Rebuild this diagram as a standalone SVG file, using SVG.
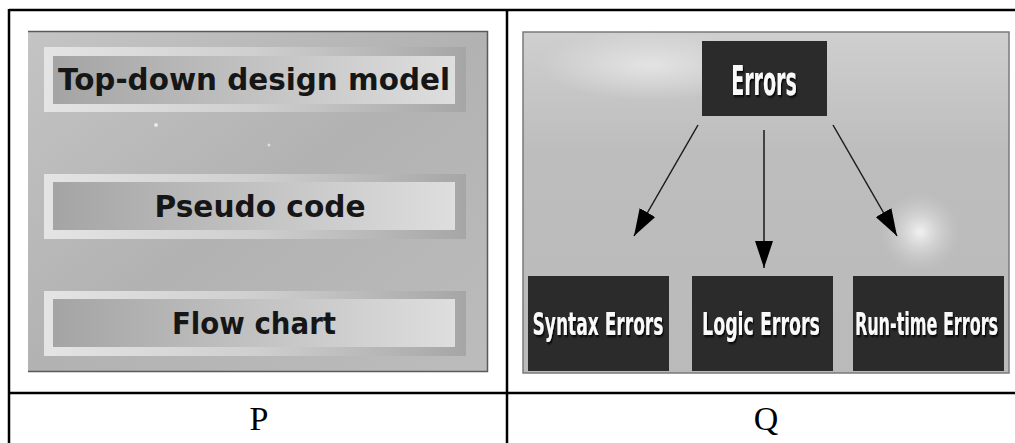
<svg xmlns="http://www.w3.org/2000/svg" width="1015" height="443" viewBox="0 0 1015 443">
<defs>
<style>
.grid{stroke:#000;stroke-width:2.5;fill:none}
.lbl{font-family:"Liberation Serif",serif;font-size:34px;fill:#000;text-anchor:middle}
.ptxt{font-family:"DejaVu Sans","Liberation Sans",sans-serif;font-weight:bold;font-size:30px;fill:#161616;text-anchor:middle}
.qtxt{font-family:"DejaVu Sans Condensed","DejaVu Sans",sans-serif;font-weight:bold;fill:#fafafa;text-anchor:middle;filter:url(#sh)}
.dark{fill:#2b2b2b}
.conn{stroke:#1a1a1a;stroke-width:1.5;fill:none;marker-end:url(#ah)}
</style>
<filter id="sh" x="-10%" y="-20%" width="130%" height="150%">
<feDropShadow dx="2" dy="2" stdDeviation="1" flood-color="#000" flood-opacity="0.85"/>
</filter>
<linearGradient id="pbg" x1="0" y1="0" x2="1" y2="1">
<stop offset="0" stop-color="#c4c4c4"/>
<stop offset="0.5" stop-color="#b2b2b2"/>
<stop offset="1" stop-color="#bcbcbc"/>
</linearGradient>
<linearGradient id="frame" x1="0" y1="0" x2="1" y2="0">
<stop offset="0" stop-color="#e4e4e4"/>
<stop offset="0.5" stop-color="#cfcfcf"/>
<stop offset="1" stop-color="#a6a6a6"/>
</linearGradient>
<linearGradient id="inner" x1="0" y1="0" x2="1" y2="0">
<stop offset="0" stop-color="#a4a4a4"/>
<stop offset="0.5" stop-color="#c2c2c2"/>
<stop offset="1" stop-color="#dedede"/>
</linearGradient>
<linearGradient id="qbg" x1="0" y1="0" x2="0" y2="1">
<stop offset="0" stop-color="#cfcfcf"/>
<stop offset="0.35" stop-color="#bdbdbd"/>
<stop offset="1" stop-color="#bababa"/>
</linearGradient>
<radialGradient id="glow" cx="0.5" cy="0.5" r="0.5">
<stop offset="0" stop-color="#f2f2f2" stop-opacity="1"/>
<stop offset="1" stop-color="#d0d0d0" stop-opacity="0"/>
</radialGradient>
<radialGradient id="glow2" cx="0.5" cy="0.5" r="0.5">
<stop offset="0" stop-color="#e6e6e6" stop-opacity="0.9"/>
<stop offset="1" stop-color="#e6e6e6" stop-opacity="0"/>
</radialGradient>
<marker id="ah" markerUnits="userSpaceOnUse" markerWidth="28" markerHeight="18" refX="27" refY="9" orient="auto">
<path d="M0,0 L27,9 L0,18 Z" fill="#000"/>
</marker>
</defs>

<g id="table">
<line class="grid" x1="9" y1="10" x2="1015" y2="10"/>
<line class="grid" x1="9" y1="393" x2="1015" y2="393"/>
<line class="grid" x1="9" y1="9" x2="9" y2="443"/>
<line class="grid" x1="507" y1="9" x2="507" y2="443"/>
<text class="lbl" x="259" y="430">P</text>
<text class="lbl" x="766" y="430">Q</text>
</g>

<g id="panel-p">
<rect x="28" y="31" width="460" height="341" fill="url(#pbg)"/>
<path d="M28,31.5 H487.5 V371.5 H28" fill="none" stroke="#5a5a5a" stroke-width="1.5"/>
<circle cx="156" cy="125" r="2" fill="#e8e8e8"/>
<circle cx="269" cy="145" r="1.5" fill="#e0e0e0"/>
</g>

<g id="node-topdown">
<rect x="44" y="47" width="422" height="65" fill="url(#frame)"/>
<rect x="53" y="56" width="402" height="48" fill="url(#inner)"/>
<text class="ptxt" x="254" y="90" textLength="392" lengthAdjust="spacingAndGlyphs">Top-down design model</text>
</g>
<g id="node-pseudo">
<rect x="44" y="174" width="422" height="65" fill="url(#frame)"/>
<rect x="53" y="182" width="402" height="48" fill="url(#inner)"/>
<text class="ptxt" x="260" y="217" textLength="211" lengthAdjust="spacingAndGlyphs">Pseudo code</text>
</g>
<g id="node-flow">
<rect x="44" y="291" width="422" height="65" fill="url(#frame)"/>
<rect x="53" y="299" width="402" height="48" fill="url(#inner)"/>
<text class="ptxt" x="254" y="334" textLength="164" lengthAdjust="spacingAndGlyphs">Flow chart</text>
</g>

<g id="panel-q">
<rect x="523" y="32" width="486" height="341" fill="url(#qbg)"/>
<ellipse cx="650" cy="65" rx="110" ry="35" fill="url(#glow2)"/>
<ellipse cx="920" cy="232" rx="40" ry="40" fill="url(#glow)"/>
<rect x="523" y="32" width="486" height="341" fill="none" stroke="#7a7a7a" stroke-width="1.5"/>
</g>

<g id="node-errors">
<rect class="dark" x="702" y="41" width="125" height="75"/>
<text class="qtxt" transform="translate(764,95) scale(0.62,1)" font-size="41" textLength="106" lengthAdjust="spacingAndGlyphs">Errors</text>
</g>
<g id="node-syntax">
<rect class="dark" x="528" y="276" width="141" height="95"/>
<text class="qtxt" transform="translate(598,335) scale(0.62,1)" font-size="32" textLength="211" lengthAdjust="spacingAndGlyphs">Syntax Errors</text>
</g>
<g id="node-logic">
<rect class="dark" x="692" y="276" width="141" height="95"/>
<text class="qtxt" transform="translate(761,335) scale(0.62,1)" font-size="32" textLength="190" lengthAdjust="spacingAndGlyphs">Logic Errors</text>
</g>
<g id="node-runtime">
<rect class="dark" x="853" y="276" width="151" height="95"/>
<text class="qtxt" transform="translate(926.5,335) scale(0.62,1)" font-size="32" textLength="231" lengthAdjust="spacingAndGlyphs">Run-time Errors</text>
</g>

<g id="connectors">
<line class="conn" x1="698" y1="125" x2="634" y2="236"/>
<line class="conn" x1="764" y1="130" x2="764" y2="268"/>
<line class="conn" x1="833" y1="125" x2="897" y2="236"/>
</g>
</svg>
